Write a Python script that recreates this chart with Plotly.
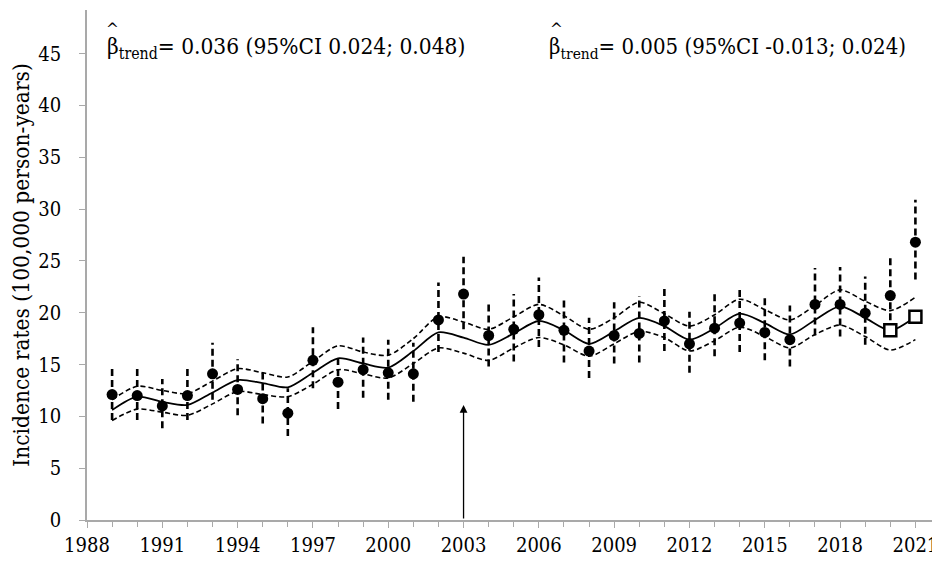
import plotly.graph_objects as go

years = list(range(1989, 2022))
observed = [12.1, 12.0, 11.0, 12.0, 14.1, 12.6, 11.7, 10.3, 15.4, 13.3, 14.5,
            14.2, 14.1, 19.3, 21.8, 17.8, 18.4, 19.8, 18.3, 16.3, 17.8, 18.0,
            19.2, 17.0, 18.5, 19.0, 18.1, 17.4, 20.8, 20.8, 19.95, 21.65, 26.8]
obs_low = [9.65, 9.65, 8.85, 9.65, 11.6, 10.1, 9.3, 8.1, 12.7, 10.7, 11.8,
           11.6, 11.4, 16.2, 18.4, 14.8, 15.3, 16.7, 15.2, 13.7, 15.1, 15.2,
           16.3, 14.2, 15.8, 16.2, 15.4, 14.8, 17.8, 17.7, 16.9, 18.2, 23.2]
obs_high = [14.6, 14.6, 13.6, 14.6, 17.1, 15.5, 14.3, 12.7, 18.6, 15.8, 17.6,
            17.4, 17.1, 22.9, 25.4, 21.1, 21.8, 23.4, 21.5, 19.5, 21.0, 21.6,
            22.6, 20.1, 21.8, 22.4, 21.4, 20.7, 24.3, 24.4, 23.5, 25.3, 30.9]
trend = [10.6, 11.9, 11.4, 11.1, 12.3, 13.5, 13.2, 12.8, 14.2, 15.6, 15.1,
         14.7, 16.3, 18.1, 17.6, 16.9, 18.0, 19.2, 18.3, 17.0, 18.2, 19.5,
         18.7, 17.4, 18.5, 19.9, 19.0, 17.9, 19.3, 20.6, 19.5, 18.3, 19.6]
trend_upper = [11.6, 12.9, 12.5, 12.2, 13.4, 14.6, 14.2, 13.8, 15.3, 16.8, 16.2,
               15.9, 17.5, 19.6, 19.1, 18.4, 19.6, 20.8, 19.7, 18.4, 19.5, 21.0,
               19.9, 18.7, 19.8, 21.3, 20.3, 19.3, 20.7, 22.2, 21.1, 20.2, 21.5]
trend_lower = [9.6, 10.7, 10.4, 10.1, 11.2, 12.4, 12.1, 11.9, 13.1, 14.5, 14.1,
               13.7, 15.1, 16.6, 16.1, 15.4, 16.6, 17.6, 16.9, 15.8, 17.0, 18.2,
               17.6, 16.3, 17.3, 18.6, 17.7, 16.6, 17.9, 18.8, 17.7, 16.4, 17.4]
expected_years = [2020, 2021]
expected = [18.3, 19.6]

x_tick_years = list(range(1988, 2022, 3))
y_ticks = list(range(0, 50, 5))
arrow_year = 2003
arrow_top = 11.1
ann_left = "β<sub>trend</sub>= 0.036 (95%CI 0.024; 0.048)"
ann_right = "β<sub>trend</sub>= 0.005 (95%CI -0.013; 0.024)"
y_title = "Incidence rates (100,000 person-years)"

FONT = "DejaVu Serif Condensed, DejaVu Serif"
AXIS_COLOR = "#a9a9a9"

eb_x, eb_y = [], []
for yr, lo, hi in zip(years, obs_low, obs_high):
    eb_x += [yr, yr, None]
    eb_y += [lo, hi, None]

fig = go.Figure()
fig.add_trace(go.Scatter(x=years, y=trend_upper, mode="lines",
                         line=dict(color="black", width=1.6, dash="5px,3px",
                                   shape="spline", smoothing=0.8),
                         hoverinfo="skip"))
fig.add_trace(go.Scatter(x=years, y=trend_lower, mode="lines",
                         line=dict(color="black", width=1.6, dash="5px,3px",
                                   shape="spline", smoothing=0.8),
                         hoverinfo="skip"))
fig.add_trace(go.Scatter(x=eb_x, y=eb_y, mode="lines",
                         line=dict(color="black", width=2.6, dash="7px,4px"),
                         hoverinfo="skip"))
fig.add_trace(go.Scatter(x=years, y=trend, mode="lines",
                         line=dict(color="black", width=1.8,
                                   shape="spline", smoothing=0.8)))
fig.add_trace(go.Scatter(x=years, y=observed, mode="markers",
                         marker=dict(color="black", size=11, symbol="circle")))
fig.add_trace(go.Scatter(x=expected_years, y=expected, mode="markers",
                         marker=dict(color="white", size=12, symbol="square",
                                     line=dict(color="black", width=2.5))))

fig.add_annotation(x=arrow_year, y=arrow_top, ax=arrow_year, ay=0,
                   xref="x", yref="y", axref="x", ayref="y",
                   showarrow=True, arrowhead=2, arrowsize=1.2, arrowwidth=1.3,
                   arrowcolor="black", text="")

for txt, px_left, hat_x, fsize in [(ann_left, 0.021, 0.0300, 22.5),
                                   (ann_right, 0.541, 0.5515, 22)]:
    fig.add_annotation(x=px_left, y=0.925, xref="paper", yref="paper",
                       text=txt, showarrow=False, xanchor="left", yanchor="middle",
                       font=dict(family=FONT, size=fsize, color="black"))
    fig.add_annotation(x=hat_x, y=0.962, xref="paper", yref="paper",
                       text="^", showarrow=False, xanchor="center", yanchor="middle",
                       font=dict(family=FONT, size=17, color="black"))

# page body has an 8px margin, so the figure is drawn 8px smaller
fig.update_layout(
    width=932, height=554,
    margin=dict(l=79, r=2, t=2, b=42),
    paper_bgcolor="white", plot_bgcolor="white",
    showlegend=False,
    font=dict(family=FONT, size=20, color="black"),
    xaxis=dict(range=[1988, 2021.9], tickmode="array", tickvals=x_tick_years,
               ticktext=[str(v) for v in x_tick_years],
               showgrid=False, zeroline=False, showline=True,
               linecolor=AXIS_COLOR, linewidth=1.5,
               ticks="outside", ticklen=6, tickcolor=AXIS_COLOR, tickwidth=1.3,
               minor=dict(dtick=1, tick0=1988, ticks="outside", ticklen=5,
                          tickcolor=AXIS_COLOR, tickwidth=1.3, showgrid=False),
               tickfont=dict(family=FONT, size=20, color="black")),
    yaxis=dict(range=[0, 49.2], tickmode="array", tickvals=y_ticks,
               showgrid=False, zeroline=False, showline=True,
               linecolor=AXIS_COLOR, linewidth=1.5,
               ticks="outside", ticklen=6, tickcolor=AXIS_COLOR, tickwidth=1.3,
               ticklabelstandoff=14,
               tickfont=dict(family=FONT, size=20, color="black"),
               title=dict(text=y_title, standoff=8,
                          font=dict(family=FONT, size=22.5, color="black"))),
)

fig.write_html("out.html")
